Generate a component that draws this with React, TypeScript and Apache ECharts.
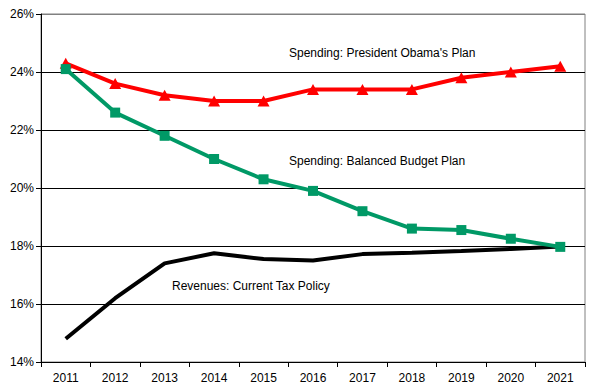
import React, { useEffect, useRef } from "react";
import * as echarts from "echarts";

const years = ["2011", "2012", "2013", "2014", "2015", "2016", "2017", "2018", "2019", "2020", "2021"];
const obamaPlan = [24.3, 23.6, 23.2, 23.0, 23.0, 23.4, 23.4, 23.4, 23.8, 24.0, 24.2];
const balancedPlan = [24.1, 22.6, 21.8, 21.0, 20.3, 19.9, 19.2, 18.6, 18.55, 18.25, 17.97];
const revenues = [14.8, 16.2, 17.4, 17.75, 17.55, 17.5, 17.72, 17.77, 17.83, 17.9, 17.98];
const yTicks = [14, 16, 18, 20, 22, 24, 26];

const FONT = "'Liberation Sans', Arial, sans-serif";

export default function App() {
  const ref = useRef<HTMLDivElement>(null);
  useEffect(() => {
    if (!ref.current) return;
    const chart = echarts.init(ref.current, null, { renderer: "svg" });
    chart.setOption({
      animation: false,
      backgroundColor: "#fff",
      textStyle: { fontFamily: FONT },
      grid: {
        left: 41,
        right: 10,
        top: 14,
        bottom: 30,
        show: true,
        borderColor: "#808080",
        borderWidth: 1,
        containLabel: false,
      },
      xAxis: {
        type: "category",
        data: years,
        boundaryGap: true,
        axisLine: { show: true, lineStyle: { color: "#000", width: 1 } },
        axisTick: { show: true, length: 5, lineStyle: { color: "#000" } },
        axisLabel: { color: "#000", fontSize: 12, fontFamily: FONT, margin: 10 },
        splitLine: { show: false },
      },
      yAxis: {
        type: "value",
        min: yTicks[0],
        max: yTicks[yTicks.length - 1],
        interval: 2,
        axisLine: { show: true, lineStyle: { color: "#000", width: 1 } },
        axisTick: { show: true, length: 5, lineStyle: { color: "#000" } },
        axisLabel: {
          color: "#000",
          fontSize: 12,
          fontFamily: FONT,
          margin: 7,
          formatter: (v: number) => `${v}%`,
        },
        splitLine: {
          show: true,
          lineStyle: { color: ["#000", "#000", "#000", "#000", "#000", "#000", "#808080"], width: 1 },
        },
      },
      series: [
        {
          type: "line",
          data: revenues,
          symbol: "none",
          lineStyle: { color: "#000", width: 4 },
          itemStyle: { color: "#000" },
          z: 2,
        },
        {
          type: "line",
          data: obamaPlan,
          symbol: "triangle",
          symbolSize: [12, 11],
          showAllSymbol: true,
          lineStyle: { color: "#ff0000", width: 4 },
          itemStyle: { color: "#ff0000" },
          z: 3,
        },
        {
          type: "line",
          data: balancedPlan,
          symbol: "rect",
          symbolSize: 10,
          showAllSymbol: true,
          lineStyle: { color: "#009966", width: 4 },
          itemStyle: { color: "#009966" },
          z: 4,
        },
      ],
      graphic: [
        {
          type: "text",
          left: 289,
          top: 47,
          style: { text: "Spending: President Obama's Plan", fill: "#000", font: `12px ${FONT}` },
        },
        {
          type: "text",
          left: 289,
          top: 155,
          style: { text: "Spending: Balanced Budget Plan", fill: "#000", font: `12px ${FONT}` },
        },
        {
          type: "text",
          left: 172,
          top: 280,
          style: { text: "Revenues: Current Tax Policy", fill: "#000", font: `12px ${FONT}` },
        },
      ],
    });
    return () => chart.dispose();
  }, []);
  return <div ref={ref} style={{ width: 595, height: 392, position: "absolute", left: 0, top: 0 }} />;
}
